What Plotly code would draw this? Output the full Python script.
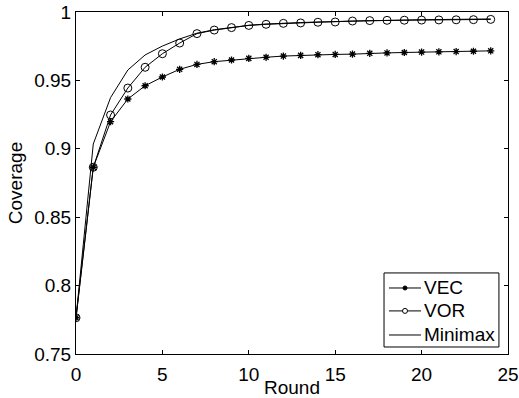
import plotly.graph_objects as go

rounds = list(range(25))
vec = [0.7765, 0.8865, 0.9198, 0.9364, 0.9461, 0.9525, 0.9581, 0.9617, 0.9637, 0.9649,
       0.9661, 0.9669, 0.9678, 0.9683, 0.9688, 0.9690, 0.9692, 0.9698, 0.9701, 0.9704,
       0.9707, 0.9709, 0.9711, 0.9713, 0.9716]
vor = [0.7765, 0.8865, 0.9247, 0.9444, 0.9596, 0.9695, 0.9773, 0.9842, 0.9868, 0.9886,
       0.9902, 0.9910, 0.9917, 0.9920, 0.9925, 0.9927, 0.9934, 0.9937, 0.9939, 0.9940,
       0.9941, 0.9942, 0.9943, 0.9944, 0.9946]
minimax = [0.7765, 0.9035, 0.9374, 0.9576, 0.9686, 0.9751, 0.9803, 0.9845, 0.9870, 0.9888,
           0.9903, 0.9912, 0.9919, 0.9923, 0.9927, 0.9930, 0.9936, 0.9939, 0.9941, 0.9942,
           0.9944, 0.9945, 0.9946, 0.9947, 0.9949]
series_names = ["VEC", "VOR", "Minimax"]

FONT = "Liberation Sans, Arial, sans-serif"
FS = 19

fig = go.Figure()
fig.add_trace(go.Scatter(x=rounds, y=vec, name=series_names[0], mode="lines+markers",
                         line=dict(color="black", width=1),
                         marker=dict(symbol="asterisk-open", size=6, color="black",
                                     line=dict(color="black", width=1.3))))
fig.add_trace(go.Scatter(x=rounds, y=vor, name=series_names[1], mode="lines+markers",
                         line=dict(color="black", width=1),
                         marker=dict(symbol="circle-open", size=8, color="black",
                                     line=dict(color="black", width=1))))
fig.add_trace(go.Scatter(x=rounds, y=minimax, name=series_names[2], mode="lines",
                         line=dict(color="black", width=1)))

axis_common = dict(showgrid=False, zeroline=False, showline=True, linecolor="black",
                   linewidth=1, mirror="ticks", ticks="inside", ticklen=4, automargin=False,
                   tickcolor="black", tickfont=dict(family=FONT, size=FS, color="black"))

fig.update_xaxes(range=[0, 25], tickvals=[0, 5, 10, 15, 20, 25],
                 ticklabelstandoff=3,
                 title=dict(text="Round", font=dict(family=FONT, size=FS, color="black"),
                            standoff=6),
                 **axis_common)
fig.update_yaxes(range=[0.75, 1], tickvals=[0.75, 0.8, 0.85, 0.9, 0.95, 1],
                 ticktext=["0.75", "0.8", "0.85", "0.9", "0.95", "1"],
                 title=dict(text="Coverage", font=dict(family=FONT, size=FS, color="black"),
                            standoff=6),
                 **axis_common)

# Custom legend box (MATLAB style) in paper coordinates
bx0, bx1, by0, by1 = 0.713, 0.979, 0.0205, 0.237
row_y = [0.193, 0.126, 0.0556]
lx0, lx1, mx, tx = 0.7245, 0.7986, 0.7616, 0.801

shapes = [dict(type="rect", xref="paper", yref="paper", x0=bx0, x1=bx1, y0=by0, y1=by1,
               line=dict(color="black", width=1), fillcolor="white", layer="above")]
annotations = []
for i, (name, yy) in enumerate(zip(series_names, row_y)):
    shapes.append(dict(type="line", xref="paper", yref="paper", x0=lx0, x1=lx1, y0=yy, y1=yy,
                       line=dict(color="black", width=1), layer="above"))
    if i == 0:
        shapes.append(dict(type="circle", xref="paper", yref="paper", xsizemode="pixel",
                           ysizemode="pixel", xanchor=mx, yanchor=yy, x0=-2, x1=2, y0=-2, y1=2,
                           line=dict(color="black", width=1), fillcolor="black", layer="above"))
    elif i == 1:
        shapes.append(dict(type="circle", xref="paper", yref="paper", xsizemode="pixel",
                           ysizemode="pixel", xanchor=mx, yanchor=yy, x0=-2.5, x1=2.5, y0=-2.5, y1=2.5,
                           line=dict(color="black", width=1), fillcolor="white", layer="above"))
    annotations.append(dict(text=name, xref="paper", yref="paper", x=tx, y=yy,
                            xanchor="left", yanchor="middle", showarrow=False,
                            font=dict(family=FONT, size=FS, color="black")))

fig.update_layout(
    width=519, height=398,
    margin=dict(l=76, r=11, t=12, b=44),
    paper_bgcolor="white", plot_bgcolor="white",
    font=dict(family=FONT, size=FS, color="black"),
    showlegend=False,
    shapes=shapes,
    annotations=annotations,
)

fig.write_html("out.html")
